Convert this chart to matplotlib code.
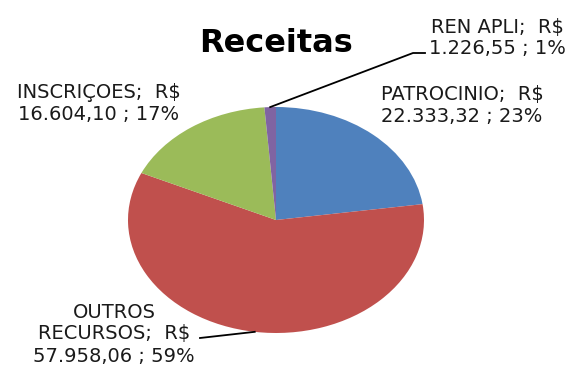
import numpy as np
import matplotlib
matplotlib.use("Agg")
import matplotlib.pyplot as plt
from matplotlib.lines import Line2D

W, H = 574, 365

labels = ["PATROCINIO", "OUTROS\nRECURSOS", "INSCRIÇOES", "REN APLI"]
values = [22333.32, 57958.06, 16604.10, 1226.55]
colors = ["#4F81BD", "#C0504D", "#9BBB59", "#8064A2"]

# label box centres (pixels from top-left) and leader elbows
label_pos = [(462, 106), (114, 334), (99, 104), (497, 38)]
leaders = {1: [(200, 338)], 3: [(413, 53), (425, 53)]}

FONT = "DejaVu Sans"


def brl(v):
    s = f"{v:,.2f}"
    return s.replace(",", "X").replace(".", ",").replace("X", ".")


def px(x, y):
    return x / W, 1 - y / H


fig = plt.figure(figsize=(W / 100, H / 100), dpi=100)
ax = fig.add_axes([128 / W, (H - 333) / H, 296 / W, 226 / H])
ax.pie(values, colors=colors, startangle=90, counterclock=False,
       wedgeprops=dict(linewidth=0))
ax.set_aspect("auto")
ax.set_xlim(-1, 1)
ax.set_ylim(-1, 1)
ax.axis("off")

fig.text(*px(276, 43), "Receitas", ha="center", va="center",
         fontsize=23, fontweight="bold", family=FONT)

total = sum(values)
fracs = np.array(values) / total
starts = np.concatenate([[0], np.cumsum(fracs)[:-1]])
fig.canvas.draw()
for i, (lab, v, f) in enumerate(zip(labels, values, fracs)):
    txt = f"{lab};  R$\n{brl(v)} ; {round(f * 100):.0f}%"
    fig.text(*px(*label_pos[i]), txt, ha="center", va="center",
             fontsize=14, family=FONT, linespacing=1.2, color="#1a1a1a")
    if i in leaders:
        mid = np.deg2rad(90 - 360 * (starts[i] + f / 2))
        ex, ey = ax.transData.transform((np.cos(mid), np.sin(mid)))
        pts = [(ex, ey)] + [(x, H - y) for x, y in leaders[i]]
        xs, ys = zip(*pts)
        fig.add_artist(Line2D(xs, ys, transform=None, color="black", lw=1.3))

fig.savefig("out.png", dpi=100)
